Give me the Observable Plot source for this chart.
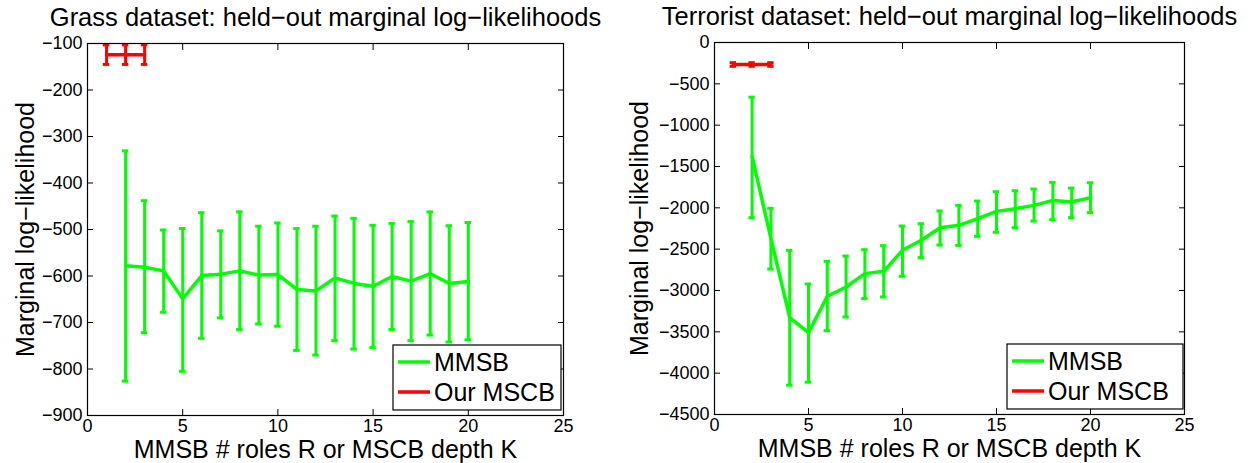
<!DOCTYPE html>
<html><head><meta charset="utf-8">
<script src="https://cdn.jsdelivr.net/npm/d3@7"></script>
<script src="https://cdn.jsdelivr.net/npm/@observablehq/plot@0.6"></script>
<style>
html,body{margin:0;padding:0;background:#fff;}
#wrap{display:flex;width:1256px;height:463px;overflow:hidden;}
#wrap svg{display:block;flex:none;}
</style></head><body><div id="wrap"></div>
<script>
// ---- data ----
const xTicks = [0, 5, 10, 15, 20, 25];
const rolesK = [2,3,4,5,6,7,8,9,10,11,12,13,14,15,16,17,18,19,20];
const mscbK = [1, 2, 3];
const seriesNames = ["MMSB", "Our MSCB"];
const seriesColors = ["#00ff00", "#ff0000"];
const xLabel = "MMSB # roles R or MSCB depth K";
const yLabel = "Marginal log\u2212likelihood";

// Grass dataset
const grassTitle = "Grass dataset: held\u2212out marginal log\u2212likelihoods";
const grassYTicks = [-900,-800,-700,-600,-500,-400,-300,-200,-100];
const grassMean = [-578,-581,-589,-649,-599,-596,-589,-598,-597,-629,-632,-604,-616,-622,-601,-611,-595,-616,-612];
const grassHigh = [-331,-438,-501,-498,-464,-503,-462,-493,-486,-498,-493,-471,-476,-491,-487,-483,-462,-492,-485];
const grassLow  = [-826,-722,-678,-805,-734,-690,-715,-703,-708,-760,-770,-739,-757,-754,-715,-739,-727,-742,-737];
const grassMscbMean = [-124,-124,-124];
const grassMscbErr = [21,21,21];

// Terrorist dataset
const terrTitle = "Terrorist dataset: held\u2212out marginal log\u2212likelihoods";
const terrYTicks = [-4500,-4000,-3500,-3000,-2500,-2000,-1500,-1000,-500,0];
const terrMean = [-1378,-2370,-3327,-3509,-3070,-2957,-2796,-2768,-2514,-2393,-2240,-2212,-2131,-2043,-2010,-1970,-1910,-1930,-1877];
const terrHigh = [-661,-2006,-2514,-2921,-2647,-2583,-2506,-2457,-2220,-2192,-2038,-1970,-1918,-1805,-1793,-1773,-1692,-1761,-1696];
const terrLow  = [-2119,-2740,-4145,-4109,-3485,-3320,-3098,-3078,-2828,-2603,-2450,-2454,-2345,-2296,-2240,-2160,-2143,-2119,-2058];
const terrMscbMean = [-266,-266,-266];
const terrMscbErr = [22,22,22];

const FONT = "'Liberation Sans', Arial, Helvetica, sans-serif";
const fmt = d3.format("d");

function chart(cfg) {
  const {width, height, marginLeft, marginRight, marginTop, marginBottom, title, yTicks,
         mean, low, high, mMean, mErr, yLabelDx, legendW, legendRight} = cfg;
  const mm = rolesK.map((k, i) => ({k, mean: mean[i], low: low[i], high: high[i]}));
  const ours = mscbK.map((k, i) => ({k, mean: mMean[i], low: mMean[i] - mErr[i], high: mMean[i] + mErr[i]}));
  const cap = 0.17;
  const series = (data, color) => [
    Plot.ruleX(data, {x: "k", y1: "low", y2: "high", stroke: color, strokeWidth: 3}),
    Plot.ruleY(data, {y: "low", x1: d => d.k - cap, x2: d => d.k + cap, stroke: color, strokeWidth: 3}),
    Plot.ruleY(data, {y: "high", x1: d => d.k - cap, x2: d => d.k + cap, stroke: color, strokeWidth: 3}),
    Plot.line(data, {x: "k", y: "mean", stroke: color, strokeWidth: 3.5, strokeLinejoin: "miter"})
  ];
  const svg = Plot.plot({
    width, height, marginLeft, marginRight, marginTop, marginBottom,
    style: {fontFamily: FONT, fontSize: "18px", color: "black", background: "white", overflow: "visible"},
    x: {domain: [xTicks[0], xTicks[xTicks.length - 1]]},
    y: {domain: [yTicks[0], yTicks[yTicks.length - 1]]},
    marks: [
      ...series(mm, seriesColors[0]),
      ...series(ours, seriesColors[1]),
      Plot.axisX(xTicks, {anchor: "bottom", tickSize: 0, tickPadding: 4, label: null, fontSize: 18, tickFormat: fmt}),
      Plot.axisX(xTicks, {anchor: "bottom", tickSize: -6, tickFormat: () => "", label: null}),
      Plot.axisX(xTicks, {anchor: "top", tickSize: -6, tickFormat: () => "", label: null}),
      Plot.axisY(yTicks, {anchor: "left", tickSize: 0, tickPadding: 5, label: null, fontSize: 18, tickFormat: fmt}),
      Plot.axisY(yTicks, {anchor: "left", tickSize: -6, tickFormat: () => "", label: null}),
      Plot.axisY(yTicks, {anchor: "right", tickSize: -6, tickFormat: () => "", label: null}),
      Plot.frame({stroke: "black", strokeWidth: 1.2}),
      Plot.text([title], {frameAnchor: "top", dy: -18, lineAnchor: "bottom", fontSize: 25.5, fill: "black"}),
      Plot.text([xLabel], {frameAnchor: "bottom", dy: 42, lineAnchor: "bottom", fontSize: 25, fill: "black"}),
      Plot.text([yLabel], {frameAnchor: "left", rotate: -90, dx: yLabelDx, lineAnchor: "middle", textAnchor: "middle", fontSize: 25, fill: "black"})
    ]
  });
  // legend box inside the axes, bottom-right
  const fx2 = width - marginRight, fy2 = height - marginBottom;
  const lh = 65;
  const bx = fx2 - legendRight - legendW, by = fy2 - 5 - lh;
  const g = d3.select(svg).append("g").attr("font-family", FONT).attr("font-size", 25).attr("text-anchor", "start");
  g.append("rect").attr("x", bx).attr("y", by).attr("width", legendW).attr("height", lh)
    .attr("fill", "white").attr("stroke", "black").attr("stroke-width", 1.2);
  seriesNames.forEach((name, i) => {
    const cy = by + 17 + i * 30;
    g.append("line").attr("x1", bx + 5).attr("x2", bx + 37).attr("y1", cy).attr("y2", cy)
      .attr("stroke", seriesColors[i]).attr("stroke-width", 3.5);
    g.append("text").attr("x", bx + 41).attr("y", cy + 9).attr("fill", "black").attr("text-anchor", "start").text(name);
  });
  return svg;
}

const wrap = document.getElementById("wrap");
wrap.appendChild(chart({
  width: 628, height: 463, marginLeft: 87, marginRight: 65, marginTop: 43, marginBottom: 48,
  title: grassTitle, yTicks: grassYTicks, mean: grassMean, low: grassLow, high: grassHigh,
  mMean: grassMscbMean, mErr: grassMscbErr, yLabelDx: -62, legendW: 168, legendRight: 2
}));
wrap.appendChild(chart({
  width: 628, height: 463, marginLeft: 86, marginRight: 72, marginTop: 42, marginBottom: 49,
  title: terrTitle, yTicks: terrYTicks, mean: terrMean, low: terrLow, high: terrHigh,
  mMean: terrMscbMean, mErr: terrMscbErr, yLabelDx: -75, legendW: 176, legendRight: 1
}));
</script></body></html>
